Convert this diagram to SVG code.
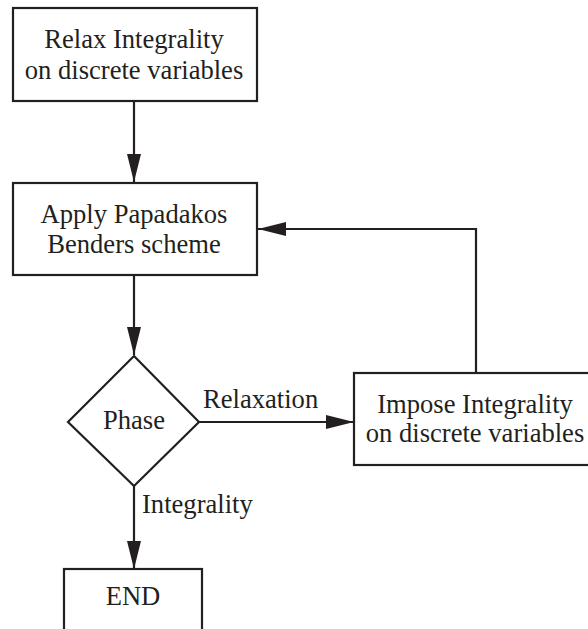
<svg xmlns="http://www.w3.org/2000/svg" width="588" height="629" viewBox="0 0 588 629">
  <style>
    .box { fill: #ffffff; stroke: #231f20; stroke-width: 2.2; }
    .line { fill: none; stroke: #231f20; stroke-width: 2.2; }
    text { font-family: "Liberation Serif", "Times New Roman", serif; font-size: 26.6px; fill: #231f20; }
    .c { text-anchor: middle; }
  </style>
  <defs>
    <marker id="arrow" viewBox="0 0 28 14" refX="28" refY="7" markerWidth="28" markerHeight="14" markerUnits="userSpaceOnUse" orient="auto">
      <path d="M0,0 L28,7 L0,14 Z" fill="#231f20"/>
    </marker>
  </defs>
  <rect width="588" height="629" fill="#ffffff"/>

  <g id="connectors">
    <line class="line" x1="134" y1="101" x2="134" y2="182" marker-end="url(#arrow)"/>
    <line class="line" x1="134" y1="275" x2="134" y2="355" marker-end="url(#arrow)"/>
    <line class="line" x1="199" y1="422" x2="354" y2="422" marker-end="url(#arrow)"/>
    <line class="line" x1="134" y1="485" x2="134" y2="569" marker-end="url(#arrow)"/>
    <polyline class="line" points="476,373 476,229 258,229" marker-end="url(#arrow)"/>
    <text x="203" y="408">Relaxation</text>
    <text x="142" y="513">Integrality</text>
  </g>

  <g id="relax">
    <rect class="box" x="13" y="8" width="244" height="93"/>
    <text class="c" x="134" y="48">Relax Integrality</text>
    <text class="c" x="134" y="79">on discrete variables</text>
  </g>

  <g id="benders">
    <rect class="box" x="13" y="183" width="244" height="92"/>
    <text class="c" x="134" y="223">Apply Papadakos</text>
    <text class="c" x="134" y="253">Benders scheme</text>
  </g>

  <g id="phase">
    <polygon class="box" points="134,356 199,422 134,486 68,422"/>
    <text class="c" x="134" y="429">Phase</text>
  </g>

  <g id="impose">
    <rect class="box" x="354" y="373" width="260" height="92"/>
    <text class="c" x="475" y="413">Impose Integrality</text>
    <text class="c" x="475" y="442">on discrete variables</text>
  </g>

  <g id="end">
    <rect class="box" x="64" y="569" width="138" height="80"/>
    <text class="c" x="133" y="605">END</text>
  </g>
</svg>
